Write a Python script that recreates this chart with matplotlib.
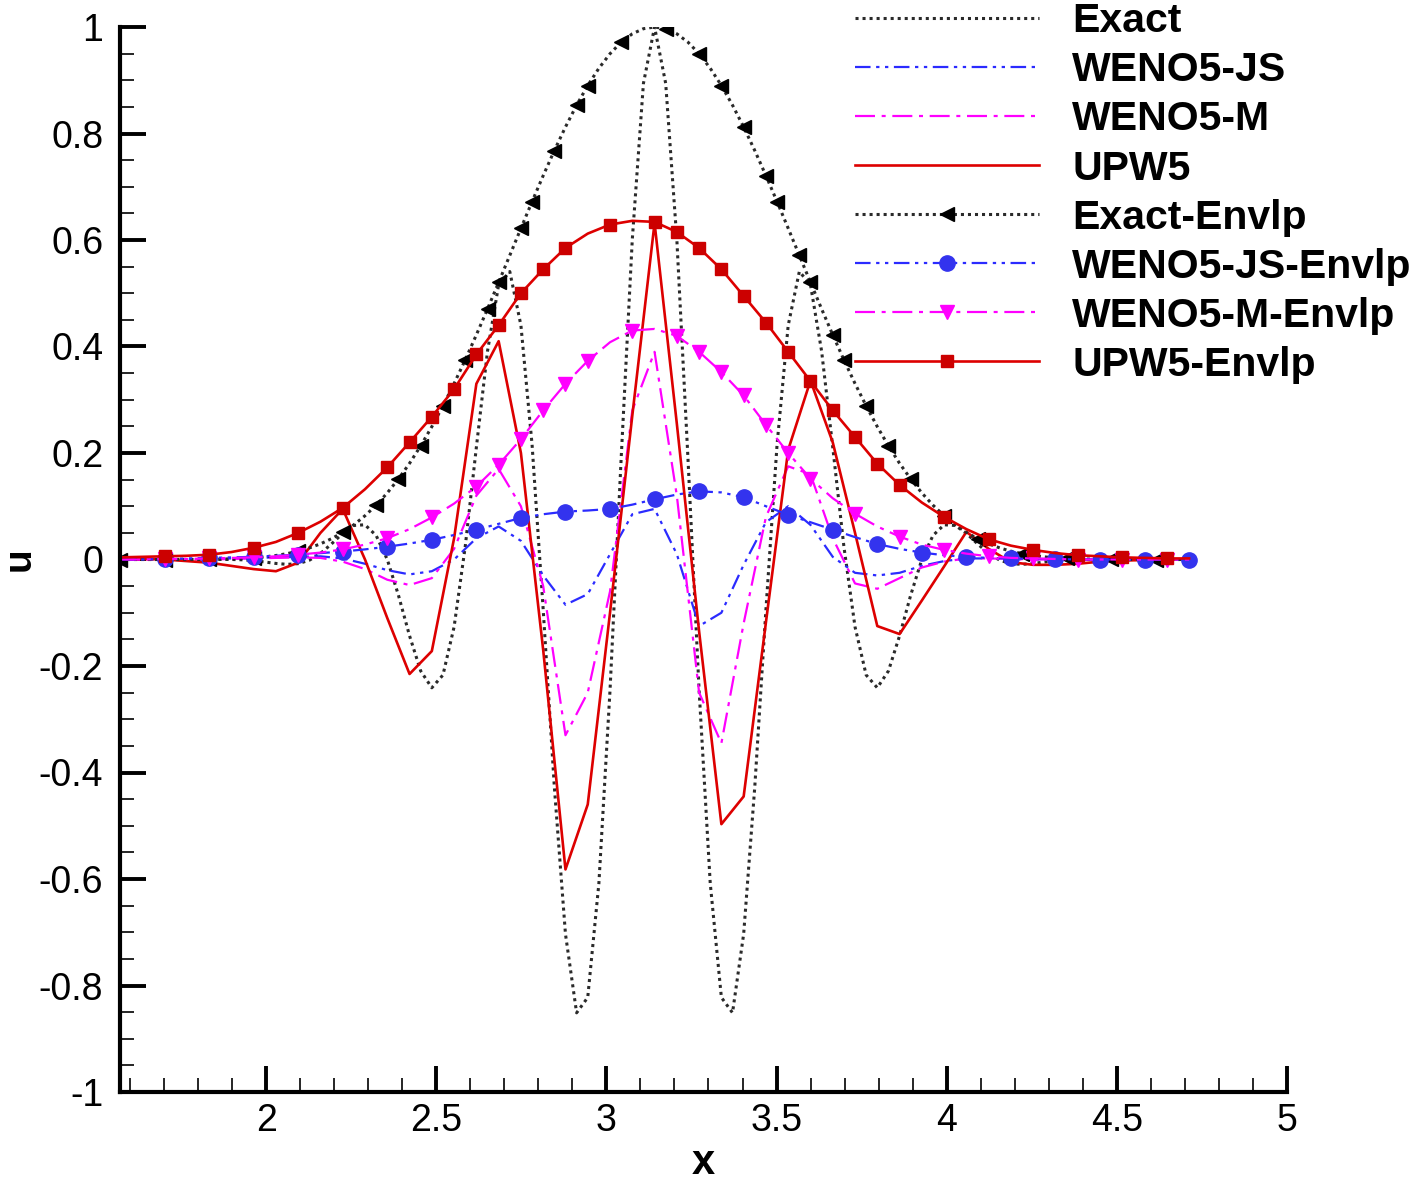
import numpy as np
import matplotlib
matplotlib.use("Agg")
import matplotlib.pyplot as plt
from matplotlib.ticker import MultipleLocator, FuncFormatter

plt.rcParams['font.family'] = ['Liberation Sans', 'DejaVu Sans']
plt.rcParams['axes.unicode_minus'] = False

# grids: coarse mesh (49 pts) and fine exact sampling (97 pts) over [pi/2, 3pi/2]
x_num = np.linspace(np.pi / 2, 3 * np.pi / 2, 49)
x_ex = np.linspace(np.pi / 2, 3 * np.pi / 2, 97)

exact = [0.0, 0.0, 0.0, 0.0, 0.0, 0.0, 0.0001, 0.0001, 0.0003, 0.0003,
         0.0001, -0.0006, -0.0022, -0.0047, -0.0074, -0.0091, -0.0078, -0.0014, 0.0113, 0.0294,
         0.0492, 0.0639, 0.0652, 0.0451, 0.0, -0.0669, -0.1433, -0.2093, -0.2409, -0.2169,
         -0.1265, 0.0245, 0.2109, 0.3912, 0.516, 0.5408, 0.4397, 0.216, -0.0941, -0.4266,
         -0.7034, -0.8513, -0.8224, -0.6083, -0.2458, 0.1895, 0.601, 0.894, 1.0,
         0.894, 0.601, 0.1895, -0.2458, -0.6083, -0.8224, -0.8513, -0.7034, -0.4266, -0.0941,
         0.216, 0.4397, 0.5408, 0.516, 0.3912, 0.2109, 0.0245, -0.1265, -0.2169, -0.2409,
         -0.2093, -0.1433, -0.0669, 0.0, 0.0451, 0.0652, 0.0639, 0.0492, 0.0294, 0.0113,
         -0.0014, -0.0078, -0.0091, -0.0074, -0.0047, -0.0022, -0.0006, 0.0001, 0.0003, 0.0003,
         0.0001, 0.0001, 0.0, 0.0, 0.0, 0.0, 0.0, 0.0]

exact_env = [0.0, 0.0, 0.0, 0.0, 0.0, 0.0, 0.0001, 0.0001, 0.0003, 0.0006,
             0.0011, 0.0019, 0.0031, 0.0049, 0.0075, 0.011, 0.0156, 0.0217, 0.0294, 0.0391,
             0.0509, 0.0652, 0.0822, 0.102, 0.125, 0.1512, 0.1806, 0.2134, 0.2494, 0.2885,
             0.3304, 0.375, 0.4219, 0.4705, 0.5205, 0.5711, 0.6219, 0.672, 0.7209, 0.7679,
             0.8122, 0.8532, 0.8901, 0.9225, 0.9498, 0.9715, 0.9872, 0.9968, 1.0,
             0.9968, 0.9872, 0.9715, 0.9498, 0.9225, 0.8901, 0.8532, 0.8122, 0.7679, 0.7209,
             0.672, 0.6219, 0.5711, 0.5205, 0.4705, 0.4219, 0.375, 0.3304, 0.2885, 0.2494,
             0.2134, 0.1806, 0.1512, 0.125, 0.102, 0.0822, 0.0652, 0.0509, 0.0391, 0.0294,
             0.0217, 0.0156, 0.011, 0.0075, 0.0049, 0.0031, 0.0019, 0.0011, 0.0006, 0.0003,
             0.0001, 0.0001, 0.0, 0.0, 0.0, 0.0, 0.0, 0.0]

weno_js = [0.0, 0.0, 0.0, 0.0, 0.001, 0.002, 0.003, 0.004, 0.005, 0.006,
           0.002, -0.008, -0.02, -0.028, -0.022, 0.0, 0.04, 0.062, 0.035, -0.03,
           -0.085, -0.065, 0.01, 0.085, 0.095, 0.01, -0.125, -0.1, -0.01, 0.07,
           0.1, 0.065, 0.005, -0.025, -0.03, -0.025, -0.012, -0.003, 0.002, 0.002,
           0.001, 0.0, 0.0, 0.0, 0.0, 0.0, 0.0, 0.0, 0.0]

weno_m = [0.0, 0.0, 0.0, 0.0, 0.0, 0.001, 0.002, 0.003, 0.004, 0.003,
          -0.004, -0.018, -0.038, -0.048, -0.035, 0.02, 0.12, 0.17, 0.1, -0.05,
          -0.33, -0.25, -0.06, 0.28, 0.39, 0.12, -0.25, -0.345, -0.12, 0.08,
          0.175, 0.16, 0.04, -0.045, -0.055, -0.035, -0.015, -0.004, 0.002, 0.002,
          0.001, 0.0, 0.0, 0.0, 0.0, 0.0, 0.0, 0.0, 0.0]

upw5 = [0.002, 0.001, 0.0, -0.003, -0.006, -0.012, -0.018, -0.022, -0.006, 0.05,
        0.095, 0.0, -0.11, -0.215, -0.172, 0.04, 0.33, 0.41, 0.2, -0.17,
        -0.582, -0.46, -0.1, 0.27, 0.632, 0.255, -0.135, -0.497, -0.445, -0.118,
        0.206, 0.336, 0.22, 0.05, -0.125, -0.14, -0.077, -0.013, 0.052, 0.02,
        -0.005, -0.01, -0.01, -0.008, -0.004, -0.002, -0.001, 0.0, 0.0]

weno_js_env = [0.0, 0.0, 0.001, 0.002, 0.003, 0.004, 0.005, 0.007, 0.009, 0.012,
               0.015, 0.019, 0.024, 0.03, 0.037, 0.046, 0.056, 0.067, 0.078, 0.085,
               0.09, 0.092, 0.095, 0.103, 0.113, 0.122, 0.128, 0.126, 0.117, 0.1,
               0.084, 0.07, 0.056, 0.042, 0.029, 0.02, 0.013, 0.008, 0.005, 0.003,
               0.002, 0.001, 0.001, 0.0, 0.0, 0.0, 0.0, 0.0, 0.0]

weno_m_env = [0.0, 0.0, 0.001, 0.001, 0.002, 0.003, 0.004, 0.006, 0.009, 0.013,
              0.019, 0.028, 0.04, 0.057, 0.079, 0.105, 0.137, 0.178, 0.226, 0.28,
              0.33, 0.373, 0.408, 0.43, 0.433, 0.42, 0.39, 0.352, 0.308, 0.253,
              0.2, 0.152, 0.115, 0.086, 0.062, 0.043, 0.028, 0.018, 0.011, 0.006,
              0.003, 0.002, 0.001, 0.0, 0.0, 0.0, 0.0, 0.0, 0.0]

upw5_env = [0.004, 0.005, 0.006, 0.007, 0.009, 0.014, 0.022, 0.033, 0.05, 0.071,
            0.097, 0.132, 0.173, 0.22, 0.268, 0.32, 0.385, 0.44, 0.5, 0.545,
            0.585, 0.612, 0.629, 0.636, 0.634, 0.615, 0.585, 0.545, 0.495, 0.445,
            0.39, 0.335, 0.28, 0.23, 0.18, 0.14, 0.107, 0.08, 0.057, 0.038,
            0.026, 0.018, 0.012, 0.008, 0.006, 0.004, 0.003, 0.002, 0.002]

# symbol positions (Tecplot skips symbols on flat stretches)
mk_upw5 = [2, 4, 6, 8, 10, 12, 13, 14, 15, 16, 17, 18, 19, 20, 22, 24, 25, 26, 27, 28,
           29, 30, 31, 32, 33, 34, 35, 37, 39, 41, 43, 45, 47]
mk_js = list(range(2, 49, 2))
mk_m = [2, 4, 6, 8, 10, 12, 14, 16, 17, 18, 19, 20, 21, 23, 25, 26, 27, 28, 29, 30,
        31, 33, 35, 37, 39, 41, 43, 45, 47]

BLUE = '#2b2bff'
MAG = '#ff00ff'
RED = '#dd0000'
BLK = '#2a2a2a'
dotted = (0, (1, 1.3))
dashdotdot = (0, (7, 2.5, 1.5, 2.5, 1.5, 2.5))
dashdot = (0, (9, 3, 1.8, 3))

fig = plt.figure(figsize=(14.16, 11.83), dpi=100)
ax = fig.add_axes([120 / 1416, 91 / 1183, 1167 / 1416, 1065 / 1183])

ax.plot(x_ex, exact, color=BLK, lw=2.2, ls=dotted, label='Exact')
ax.plot(x_num, weno_js, color=BLUE, lw=1.6, ls=dashdotdot, label='WENO5-JS')
ax.plot(x_num, weno_m, color=MAG, lw=1.6, ls=dashdot, label='WENO5-M')
ax.plot(x_num, upw5, color=RED, lw=1.9, label='UPW5')
ax.plot(x_ex, exact_env, color=BLK, lw=2.2, ls=dotted, marker='<', ms=10,
        markevery=0.028, mfc='black', mec='black', label='Exact-Envlp')
ax.plot(x_num, weno_js_env, color=BLUE, lw=1.6, ls=dashdotdot, marker='o', ms=11,
        markevery=mk_js, mfc='#3333ee', mec='#3333ee', label='WENO5-JS-Envlp')
ax.plot(x_num, weno_m_env, color=MAG, lw=1.6, ls=dashdot, marker='v', ms=10,
        markevery=mk_m, mfc=MAG, mec=MAG, label='WENO5-M-Envlp')
ax.plot(x_num, upw5_env, color=RED, lw=1.9, marker='s', ms=8.5,
        markevery=mk_upw5, mfc='#cc0000', mec='#cc0000', label='UPW5-Envlp')

ax.set_xlim(np.pi / 2, 5)
ax.set_ylim(-1, 1)

for s in ['top', 'right']:
    ax.spines[s].set_visible(False)
for s in ['left', 'bottom']:
    ax.spines[s].set_linewidth(3)

ax.xaxis.set_major_locator(MultipleLocator(0.5))
ax.xaxis.set_minor_locator(MultipleLocator(0.1))
ax.yaxis.set_major_locator(MultipleLocator(0.2))
ax.yaxis.set_minor_locator(MultipleLocator(0.05))


def fmt(v, pos):
    v = round(v, 3)
    if v == 0:
        return '0'
    return f'{v:g}'


ax.xaxis.set_major_formatter(FuncFormatter(fmt))
ax.yaxis.set_major_formatter(FuncFormatter(fmt))
ax.tick_params(which='major', direction='in', length=19, width=2.8, labelsize=27)
ax.tick_params(axis='y', which='major', pad=12)
ax.tick_params(axis='x', which='major', pad=8)
ax.tick_params(which='minor', direction='in', length=10, width=1.2)

ax.set_xlabel('x', fontsize=30, fontweight='bold', va='center')
ax.xaxis.set_label_coords(0.5, -0.067)
ax.set_ylabel('u', fontsize=28, fontweight='bold', va='center')
ax.yaxis.set_label_coords(-0.086, 0.5)

leg = ax.legend(loc='upper left', bbox_to_anchor=(855 / 1416, 0.998),
                bbox_transform=fig.transFigure, frameon=False, numpoints=1,
                handlelength=4.5, handletextpad=0.8, labelspacing=0.27,
                borderpad=0, borderaxespad=0,
                prop={'size': 29.5, 'weight': 'bold'})

fig.savefig('out.png', dpi=100)
